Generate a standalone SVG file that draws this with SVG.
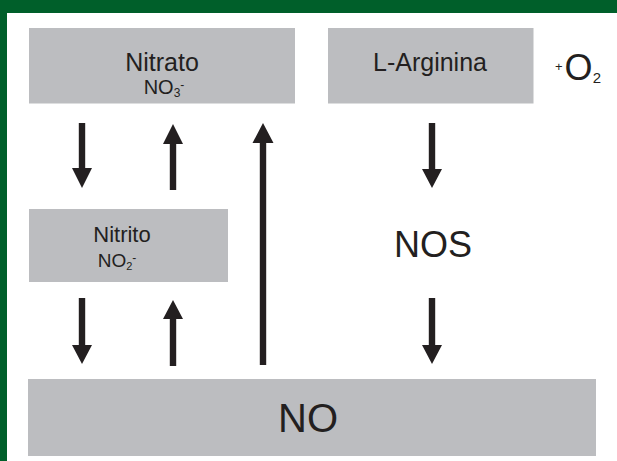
<svg xmlns="http://www.w3.org/2000/svg" width="617" height="461" viewBox="0 0 617 461">
<style>
.box{fill:#bcbdc0}
.t{font-family:"Liberation Sans",Arial,sans-serif;fill:#231f20;text-anchor:middle}
.arr{fill:#231f20}
</style>
<rect x="0" y="0" width="617" height="461" fill="#ffffff"/>
<rect x="0" y="0" width="617" height="13" fill="#005f2a"/>
<rect x="0" y="0" width="7" height="461" fill="#005f2a"/>
<g id="nitrato">
<rect class="box" x="29" y="28" width="266" height="75.5"/>
<text class="t" x="162" y="71" font-size="25">Nitrato</text>
<text class="t" x="164" y="94" font-size="20">NO<tspan font-size="12" dy="3">3</tspan><tspan font-size="12" dy="-8">-</tspan></text>
</g>
<g id="larginina">
<rect class="box" x="328" y="28" width="205.5" height="75.5"/>
<text class="t" x="430" y="71" font-size="25">L-Arginina</text>
</g>
<g id="o2">
<text class="t" x="578" y="80" font-size="36"><tspan font-size="13" dy="-9">+</tspan><tspan dx="2" dy="9">O</tspan><tspan font-size="15" dy="3">2</tspan></text>
</g>
<g id="nitrito">
<rect class="box" x="29" y="209" width="199" height="73"/>
<text class="t" x="122" y="242" font-size="22">Nitrito</text>
<text class="t" x="117" y="267" font-size="19">NO<tspan font-size="11" dy="3">2</tspan><tspan font-size="12" dy="-8">-</tspan></text>
</g>
<g id="nos">
<text class="t" x="433" y="257" font-size="36">NOS</text>
</g>
<g id="no">
<rect class="box" x="28" y="379" width="568" height="77"/>
<text class="t" x="308" y="432" font-size="40">NO</text>
</g>
<g id="connectors" class="arr">
<polygon points="78.8,123 85.2,123 85.2,168 92,168 82,188 72,168 78.8,168"/>
<polygon points="78.8,298 85.2,298 85.2,345 92,345 82,364 72,345 78.8,345"/>
<polygon points="428.8,123 435.2,123 435.2,169 442,169 432,188 422,169 428.8,169"/>
<polygon points="428.8,298 435.2,298 435.2,345 442,345 432,364 422,345 428.8,345"/>
<polygon points="169.8,190 176.2,190 176.2,144 183,144 173,124 163,144 169.8,144"/>
<polygon points="169.8,366 176.2,366 176.2,319 183,319 173,300 163,319 169.8,319"/>
<polygon points="259.8,365 266.2,365 266.2,143 273.5,143 263,123 252.5,143 259.8,143"/>
</g>
</svg>
